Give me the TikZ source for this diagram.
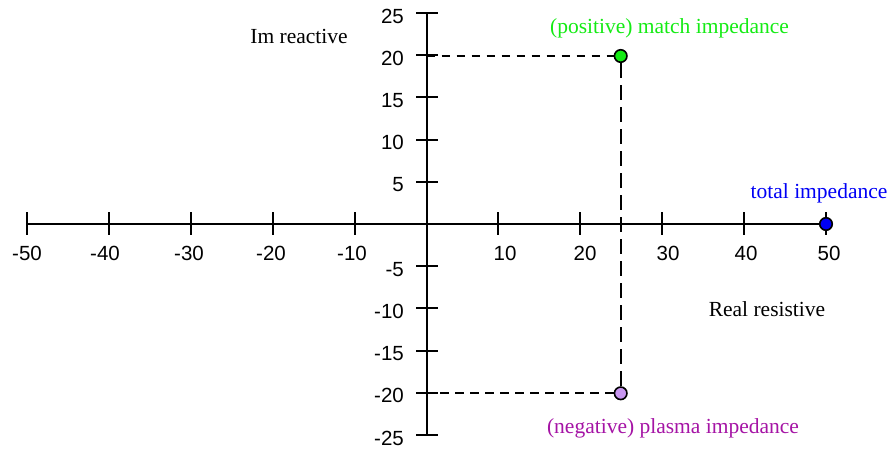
\documentclass[tikz,border=0pt]{standalone}
\usepackage{fontspec}
\setmainfont{Liberation Serif}
\newfontfamily\numfont{Liberation Sans}
\usepackage{tikz}
\usetikzlibrary{positioning}
\definecolor{matchgreen}{RGB}{20,235,20}
\definecolor{plasmapurple}{RGB}{165,20,165}
\definecolor{plasmafill}{RGB}{200,150,240}
\definecolor{totalblue}{RGB}{0,0,245}
\tikzstyle{axis} = [line width=2.2pt, black]
\tikzstyle{tick} = [line width=2.1pt, black]
\tikzstyle{dashline} = [line width=2pt, dash pattern=on 8.5pt off 6.5pt]
\tikzstyle{vdashline} = [line width=2pt, dash pattern=on 15pt off 7pt]
\tikzstyle{dot} = [circle, draw=black, line width=1.6pt, minimum size=12.5pt, inner sep=0pt]
\tikzstyle{ticklabel} = [font=\numfont\fontsize{20.5}{24}\selectfont, inner sep=0pt]
\tikzstyle{caption} = [font=\fontsize{21.5}{26}\selectfont, inner sep=0pt, anchor=base]

\begin{document}
\begin{tikzpicture}[x=1pt, y=-1pt]
        \useasboundingbox (0,0) rectangle (895,449);

        % axes
        \coordinate (xmin) at (26.7,224);
        \coordinate (xmax) at (826,224);
        \coordinate (ymax) at (426.7,14);
        \coordinate (ymin) at (426.7,436);
        \draw [axis] (xmin) -- (xmax);
        \draw [axis] (ymax) -- (ymin);

        % ticks on the real axis
        \foreach \v/\x/\l [count=\i] in {-50/26.7/27, -40/108.7/105, -30/190.7/189, -20/273/271, -10/354.7/352,
                                         10/498.3/505, 20/580.2/585, 30/662.1/668, 40/744/746, 50/826/829} {
            \draw [tick] (\x,212.5) -- (\x,235.5);
            \node (xlab\i) [ticklabel] at (\l,253.3) {\v};
        }

        % ticks on the imaginary axis
        \foreach \v [count=\i] in {25,20,15,10,5,-5,-10,-15,-20,-25} {
            \pgfmathsetmacro{\y}{224-8.44*\v}
            \draw [tick] (416,\y) -- (437.5,\y);
            \node (ylab\i) [ticklabel, anchor=east] at (404,\y+3) {\v};
        }

        \node (imlabel) [caption] at (299,43.3) {Im reactive};
        \node (relabel) [caption] at (767,317) {Real resistive};

        \coordinate (impos) at (426.7,56);
        \coordinate (imneg) at (426.7,393.3);
        \node (match) [dot, fill=matchgreen] at (620.7,56) {};
        \node (plasma) [dot, fill=plasmafill] at (620.7,393.3) {};
        \node (total) [dot, fill=totalblue] at (826,224) {};

        \draw [dashline] (impos) -- (match);
        \draw [vdashline] (match) -- (plasma);
        \draw [dashline] (plasma) -- (imneg);

        \node (matchtext) [caption, text=matchgreen] at (669.5,34) {(positive) match impedance};
        \node (plasmatext) [caption, text=plasmapurple] at (673,433) {(negative) plasma impedance};
        \node (totaltext) [caption, text=totalblue] at (819,198.3) {total impedance};

    \end{tikzpicture}
\end{document}
